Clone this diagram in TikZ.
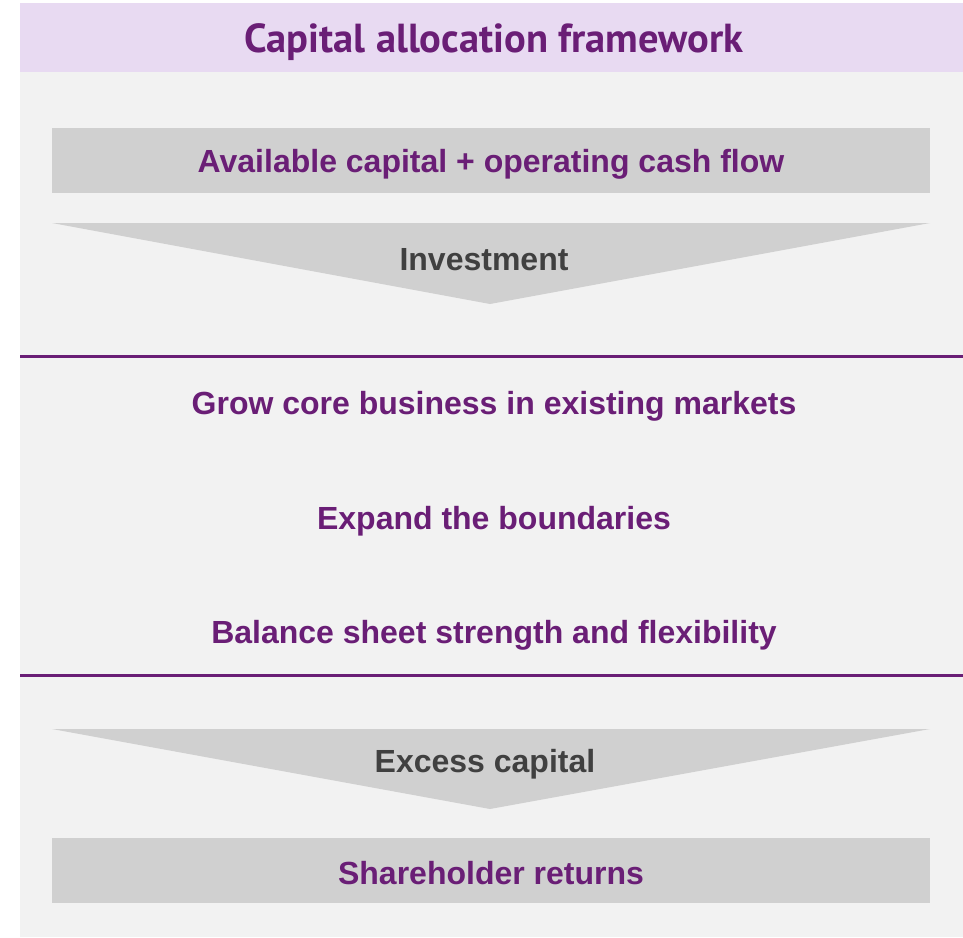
\documentclass[tikz,border=0pt]{standalone}
\usepackage{fontspec}
\setmainfont{Liberation Sans}
\newfontfamily\titlefont{PT Sans}
\definecolor{cpurple}{RGB}{106,30,118}
\definecolor{cpanel}{RGB}{242,242,242}
\definecolor{clav}{RGB}{232,218,242}
\definecolor{cbox}{RGB}{208,208,208}
\definecolor{cdark}{RGB}{64,64,64}
\tikzset{
  px/.style={x=1pt,y=-1pt},
  lbl/.style={font=\fontsize{32}{36}\selectfont\bfseries, text=cpurple, inner sep=0pt, anchor=center},
  lbldark/.style={lbl, text=cdark},
  graybox/.style={fill=cbox, draw=none},
  sepline/.style={draw=cpurple, line width=2.6pt},
}
\begin{document}
\begin{tikzpicture}[px]
\useasboundingbox (0,0) rectangle (963,937);
\fill[white] (0,0) rectangle (963,937);
% panel
\fill[cpanel] (20,72) rectangle (963,937);
\fill[clav] (20,3) rectangle (963,72);
\node[font=\titlefont\fontsize{40.5}{44}\selectfont\bfseries, text=cpurple, inner sep=0pt] (title) at (494,42) {Capital allocation framework};
% top box
\fill[cbox] (52,128) rectangle (930,193);
\node[lbl] (avail) at (491,164) {Available capital + operating cash flow};
% triangle
\fill[cbox] (52,223) -- (930,223) -- (490,304) -- cycle;
\node[lbldark] (inv) at (484,260) {Investment};
% lines
\coordinate (l1a) at (20,356.5);
\coordinate (l1b) at (963,356.5);
\draw[sepline] (l1a) -- (l1b);
\node[lbl] (grow) at (494,406) {Grow core business in existing markets};
\node[lbl] (expand) at (494,521) {Expand the boundaries};
\node[lbl] (balance) at (494,635) {Balance sheet strength and flexibility};
\coordinate (l2a) at (20,675.5);
\coordinate (l2b) at (963,675.5);
\draw[sepline] (l2a) -- (l2b);
% second triangle
\fill[cbox] (52,729) -- (930,729) -- (490,809) -- cycle;
\node[lbldark] (excess) at (485,764) {Excess capital};
% bottom box
\fill[cbox] (52,838) rectangle (930,903);
\node[lbl] (share) at (491,873) {Shareholder returns};
\end{tikzpicture}
\end{document}
